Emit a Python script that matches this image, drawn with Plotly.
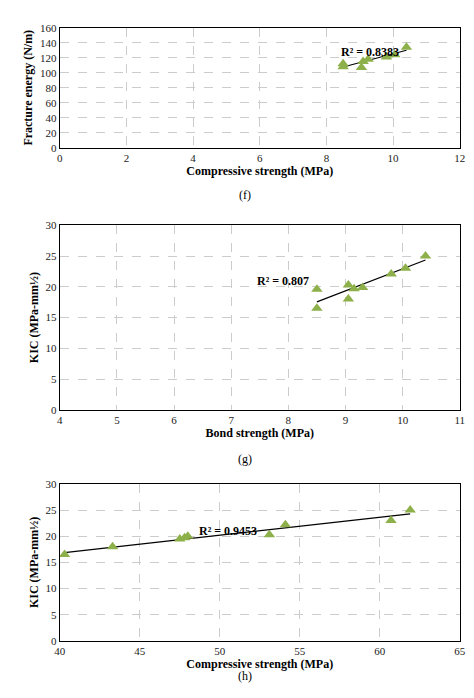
import numpy as np
import plotly.graph_objects as go

# (f) fracture energy vs compressive strength
f_x = [8.5, 8.5, 9.05, 9.1, 9.25, 9.8, 10.05, 10.4]
f_y = [108, 112, 107, 115, 118, 121, 124, 134]
# (g) KIC vs bond strength
g_x = [8.5, 8.5, 9.05, 9.05, 9.15, 9.3, 9.8, 10.05, 10.4]
g_y = [19.6, 16.5, 20.3, 18.0, 19.7, 19.9, 22.1, 23.0, 25.0]
# (h) KIC vs compressive strength
h_x = [40.3, 43.3, 47.5, 47.8, 48.0, 53.1, 54.1, 60.7, 61.9]
h_y = [16.5, 18.0, 19.5, 19.7, 20.0, 20.3, 22.2, 23.0, 25.0]

fnt = "Liberation Serif"
green = "#8db04a"
fig = go.Figure()

panels = [
    (f_x, f_y, "", [0.805, 0.98], [0, 12], 2, [0, 160], 20,
     "Fracture energy (N/m)", "Compressive strength (MPa)", "R² = 0.8383", (9.3, 128), "(f)", 0.75),
    (g_x, g_y, "2", [0.423, 0.692], [4, 11], 1, [0, 30], 5,
     "KIC (MPa-mm½)", "Bond strength (MPa)", "R² = 0.807", (7.9, 21), "(g)", 0.352),
    (h_x, h_y, "3", [0.086, 0.315], [40, 65], 5, [0, 30], 5,
     "KIC (MPa-mm½)", "Compressive strength (MPa)", "R² = 0.9453", (50.5, 21), "(h)", 0.022),
]

for xs, ys, n, dom, xr, xd, yr, yd, ytit, xtit, r2, rpos, lab, laby in panels:
    k, b = np.polyfit(xs, ys, 1)
    lx = [min(xs), max(xs)]
    fig.add_trace(go.Scatter(x=lx, y=[k * v + b for v in lx], mode="lines",
                             line=dict(color="black", width=1.2), xaxis="x" + n, yaxis="y" + n))
    fig.add_trace(go.Scatter(x=xs, y=ys, mode="markers",
                             marker=dict(symbol="triangle-up", size=10, color=green),
                             xaxis="x" + n, yaxis="y" + n))
    ax = dict(showline=True, mirror=True, linecolor="black", linewidth=1,
              gridcolor="#cccccc", griddash="dash", zeroline=False,
              tickfont=dict(family=fnt, size=11, color="#222"))
    fig.layout["xaxis" + n] = dict(ax, domain=[0.101, 0.965], range=xr, dtick=xd,
                                   anchor="y" + n, ticks="",
                                   title=dict(text="<b>" + xtit + "</b>", standoff=2,
                                              font=dict(family=fnt, size=12, color="black")))
    fig.layout["yaxis" + n] = dict(ax, domain=dom, range=yr, dtick=yd, anchor="x" + n,
                                   title=dict(text="<b>" + ytit + "</b>", standoff=4,
                                              font=dict(family=fnt, size=12, color="black")))
    fig.add_annotation(x=rpos[0], y=rpos[1], xref="x" + n, yref="y" + n, text="<b>" + r2 + "</b>",
                       showarrow=False, font=dict(family=fnt, size=12, color="black"))
    fig.add_annotation(x=0.5, y=laby, xref="paper", yref="paper", text=lab, showarrow=False,
                       font=dict(family=fnt, size=12, color="black"))

fig.update_layout(width=474, height=698, margin=dict(l=0, r=0, t=0, b=0),
                  showlegend=False, plot_bgcolor="white", paper_bgcolor="white")
fig.write_html("out.html")
